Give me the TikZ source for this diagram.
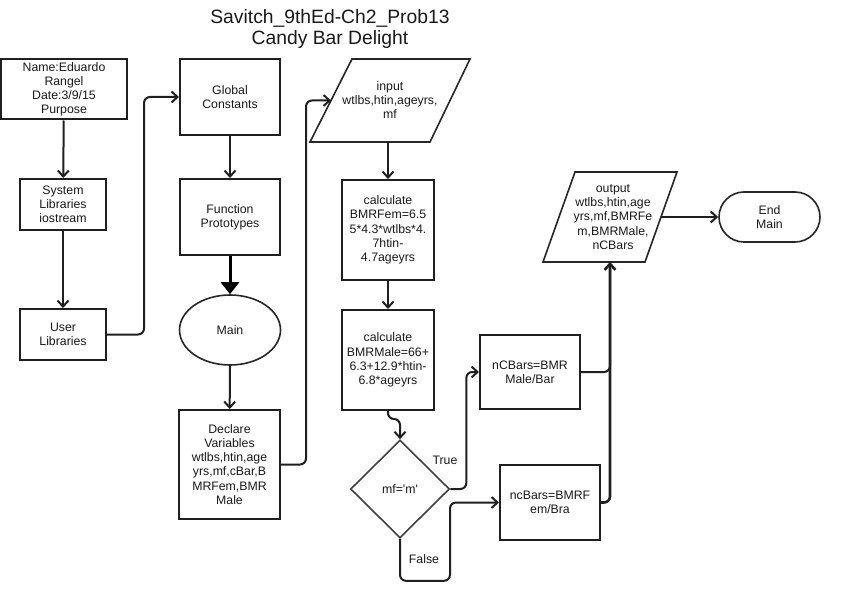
\documentclass[tikz,border=0pt]{standalone}
\usepackage{fontspec}
\setmainfont{Liberation Sans}[Ligatures=TeXOff]
\usetikzlibrary{arrows.meta,shapes.geometric,calc}
\begin{document}
\begin{tikzpicture}[x=1pt,y=-1pt,
  every node/.style={font=\fontsize{12.3}{14.2}\selectfont, align=center, inner sep=0pt, text=black!90},
  box/.style={draw=black!88, line width=2pt},
  ell/.style={ellipse, draw=black!85, line width=1.6pt},
  dia/.style={diamond, aspect=1, draw=black!75, line width=1.6pt},
  term/.style={draw=black!85, line width=1.6pt, rounded corners=25pt},
  para/.style={draw=black!85, line width=1.6pt, line join=miter},
  line/.style={draw=black!88, line width=2pt, rounded corners=6pt},
  conn/.style={line, -{Straight Barb[length=6pt,width=11pt]}},
  bigconn/.style={draw=black, line width=3pt, -{Triangle[length=12pt,width=18pt]}}
]
\fill[white] (0,0) rectangle (846,604);
\useasboundingbox (0,0) rectangle (846,604);

% title
\node[font=\fontsize{19.3}{21}\selectfont] (title) at (330,29) {Savitch\_9thEd-Ch2\_Prob13\\Candy Bar Delight};

% left column
\node[box, minimum width=126, minimum height=60] (name) at (64,89.5) {Name:Eduardo\\Rangel\\Date:3/9/15\\Purpose};
\node[box, minimum width=86, minimum height=51] (sys) at (63,204.5) {System\\Libraries\\iostream};
\node[box, minimum width=86, minimum height=51] (user) at (63,334.5) {User\\Libraries};

% second column
\node[box, minimum width=100, minimum height=76] (glob) at (230,97) {Global\\Constants};
\node[box, minimum width=100, minimum height=76] (func) at (230,217) {Function\\Prototypes};
\node[ell, minimum width=101, minimum height=70] (main) at (230,330) {Main};
\node[box, minimum width=101, minimum height=109] (decl) at (229.5,464.5) {Declare\\Variables\\wtlbs,htin,age\\yrs,mf,cBar,B\\MRFem,BMR\\Male};

% input parallelogram
\draw[para] (310,142) -- (430,142) -- (470,59) -- (352,59) -- cycle;
\node (input) at (390,100) {input\\wtlbs,htin,ageyrs,\\mf};
\coordinate (inL) at (331,100.5);
\coordinate (inB) at (388,142);

% third column
\node[box, minimum width=92, minimum height=100] (calcF) at (388,230) {calculate\\BMRFem=6.5\\5*4.3*wtlbs*4.\\7htin-\\4.7ageyrs};
\node[box, minimum width=92, minimum height=100] (calcM) at (388,360) {calculate\\BMRMale=66+\\6.3+12.9*htin-\\6.8*ageyrs};
\node[dia, minimum width=99, minimum height=98] (dia) at (400,489) {mf='m'};

% results
\node[box, minimum width=100, minimum height=74] (nC) at (530,372) {nCBars=BMR\\Male/Bar};
\node[box, minimum width=100, minimum height=75] (nc) at (550,502.5) {ncBars=BMRF\\em/Bra};

% output parallelogram
\draw[para] (543,262) -- (645,262) -- (677,172) -- (575,172) -- cycle;
\node (out) at (613,217) {output\\wtlbs,htin,age\\yrs,mf,BMRFe\\m,BMRMale,\\nCBars};
\coordinate (outB) at (610,262);
\coordinate (outR) at (661,217);

\node[term, minimum width=101, minimum height=50] (endm) at (769.5,217) {End\\Main};

% labels
\node (tl) at (445,460) {True};
\node (fl) at (424,559) {False};

% connectors
\draw[conn] (name) -- (sys);
\draw[conn] (sys) -- (user);
\draw[conn] (user.east) -- ++(37,0) |- (glob.west);
\draw[conn] (glob) -- (func);
\draw[bigconn] (func) -- (main);
\draw[conn] (main) -- (decl);
\draw[conn] (decl.east) -- ++(25,0) |- (inL);
\draw[conn] (inB) -- (calcF.north);
\draw[conn] (calcF) -- (calcM);
\draw[conn] (calcM.south) -- ++(0,8) -| (dia.north);
\draw[conn] (dia.east) -- ++(16,0) |- (nC.west);
\draw[conn] (dia.south) |- ++(50,42) |- (nc.west);
\draw[line] (nC.east) -| (outB);
\draw[conn, line width=2.6pt] (nc.east) -| (outB);
\draw[conn] (outR) -- (endm);
\end{tikzpicture}
\end{document}
